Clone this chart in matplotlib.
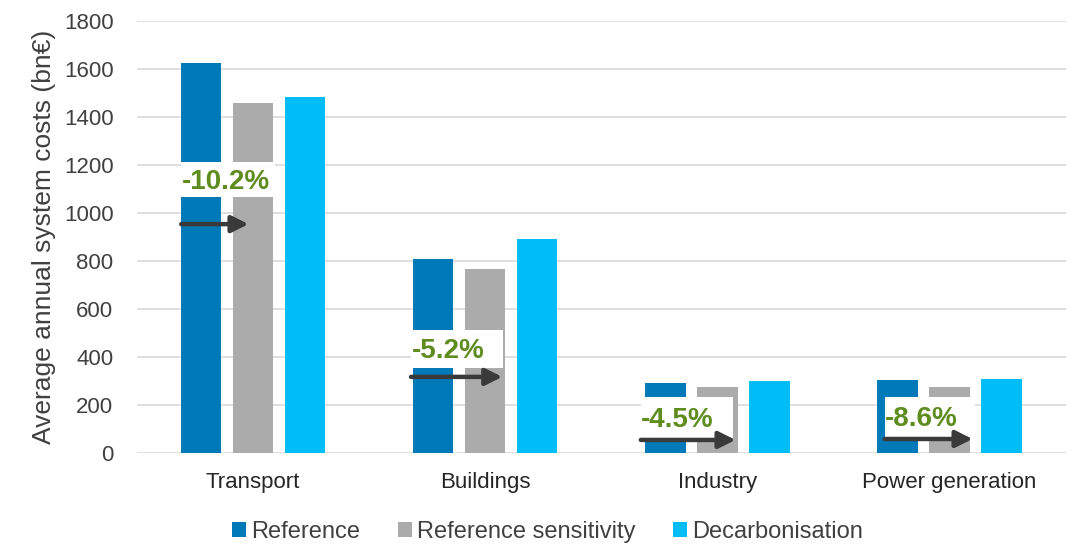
import numpy as np
import matplotlib.pyplot as plt
from matplotlib.patches import Rectangle

plt.rcParams['font.family'] = ['Liberation Sans', 'DejaVu Sans']

# Data
categories = ['Transport', 'Buildings', 'Industry', 'Power generation']
reference = [1625, 808, 292, 304]
reference_sens = [1458, 767, 275, 275]
decarbonisation = [1483, 892, 300, 308]
change_labels = ['-10.2%', '-5.2%', '-4.5%', '-8.6%']

series = ['Reference', 'Reference sensitivity', 'Decarbonisation']
colors = ['#0079B8', '#ABABAB', '#00BDF8']

fig = plt.figure(figsize=(10.71, 5.45), dpi=100)
ax = fig.add_axes([0.128, 0.169, 0.867, 0.792])

x = np.arange(len(categories))
width = 0.173
step = 0.224
for i, (vals, name, col) in enumerate(zip([reference, reference_sens, decarbonisation], series, colors)):
    ax.bar(x + (i - 1) * step, vals, width, color=col, label=name, zorder=2)

# annotation boxes (white label + arrow) per category
box_left = [-0.31, -0.32, -0.33, -0.28]
box_right = [0.095, 0.078, 0.065, 0.108]
box_bottom = [1067, 354, 62, 67]
box_top = [1212, 512, 233, 233]
arrow_y = [954, 317, 54, 58]
arrow_end = [-0.02, 0.073, 0.078, 0.099]
for i, lab in enumerate(change_labels):
    l = x[i] + box_left[i]
    r = x[i] + box_right[i]
    ax.add_patch(Rectangle((l, box_bottom[i]), r - l, box_top[i] - box_bottom[i],
                           facecolor='white', edgecolor='none', zorder=3))
    ax.text(l + 0.002, (box_bottom[i] + box_top[i]) / 2 - 10, lab, color='#5E8C1F',
            fontsize=20, fontweight='bold', ha='left', va='center', zorder=4)
    ax.annotate('', xy=(x[i] + arrow_end[i], arrow_y[i]), xytext=(l, arrow_y[i]),
                arrowprops=dict(arrowstyle='-|>,head_length=1.0,head_width=0.5',
                                color='#3A3A3A', lw=3.2, shrinkA=0, shrinkB=0),
                zorder=4)

ax.set_xlim(-0.5, len(categories) - 0.5)
ax.set_ylim(0, 1800)
ax.set_yticks(range(0, 1801, 200))
ax.set_xticks(x)
ax.set_xticklabels(categories, fontsize=16, color='#262626')
ax.tick_params(axis='y', labelsize=16, labelcolor='#404040', length=0, pad=17)
ax.tick_params(axis='x', length=0, pad=14)
ax.grid(axis='y', color='#D9D9D9', lw=1.2, zorder=0)
ax.set_axisbelow(True)
for s in ax.spines.values():
    s.set_visible(False)
ax.set_ylabel('Average annual system costs (bn€)', fontsize=19, color='#404040', labelpad=6)

fig.legend(loc='lower center', ncol=3, frameon=False, fontsize=17,
           bbox_to_anchor=(0.511, -0.035), handlelength=0.6, handleheight=0.6,
           handletextpad=0.2, columnspacing=1.6, labelcolor='#404040')

fig.savefig('out.png', dpi=100)
